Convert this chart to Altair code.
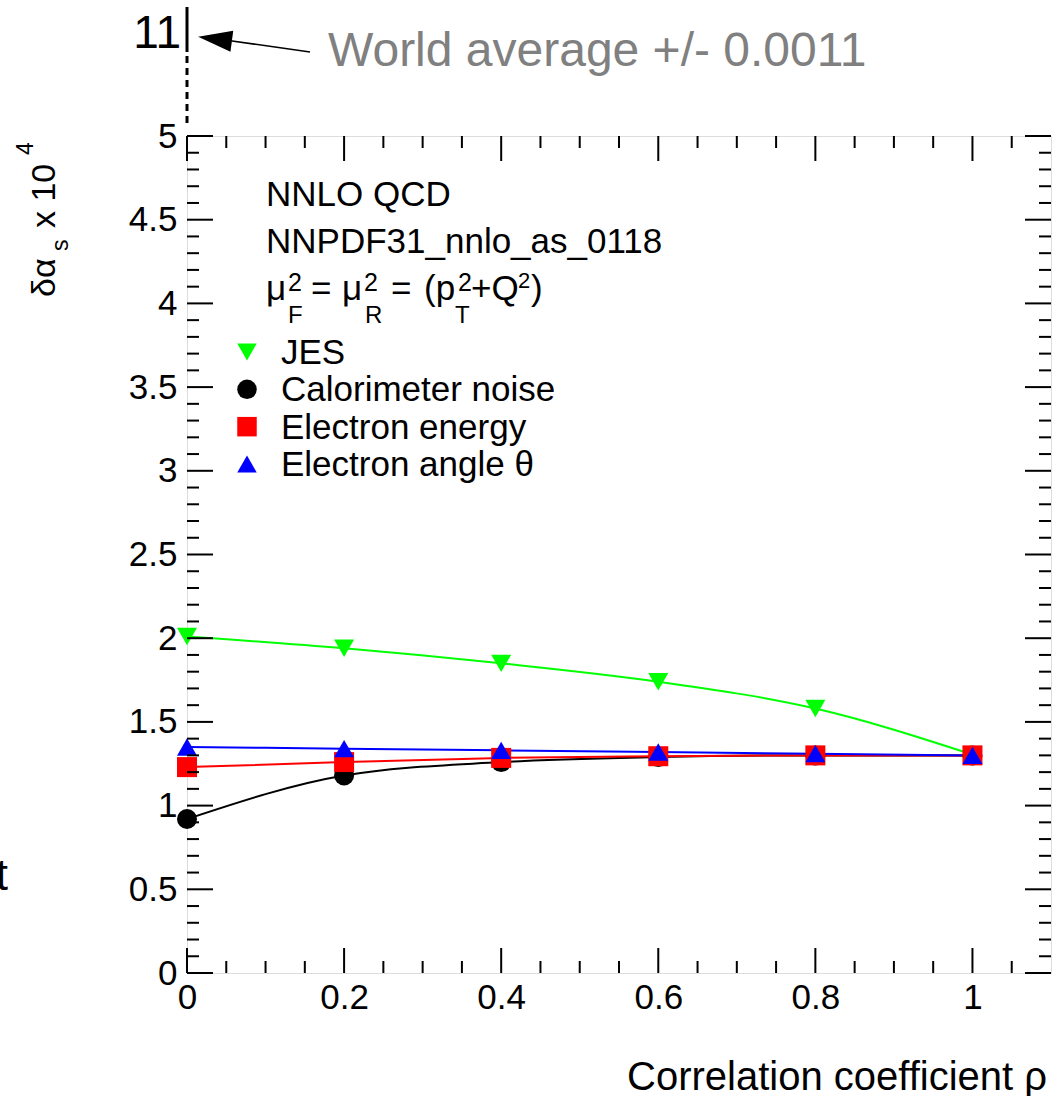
import altair as alt
import pandas as pd

# ---------------- data ----------------
rho = [0.0, 0.2, 0.4, 0.6, 0.8, 1.0]
jes = [2.01, 1.94, 1.85, 1.74, 1.58, 1.305]
cal_noise = [0.92, 1.18, 1.26, 1.29, 1.30, 1.30]
el_energy = [1.23, 1.26, 1.285, 1.295, 1.30, 1.30]
el_angle = [1.35, 1.34, 1.33, 1.32, 1.31, 1.30]

series_names = ["JES", "Calorimeter noise", "Electron energy", "Electron angle θ"]
series_values = [jes, cal_noise, el_energy, el_angle]
series_colors = ["#00ff00", "#000000", "#ff0000", "#0000ff"]
series_shapes = ["triangle-down", "circle", "square", "triangle-up"]

x_labels = [0, 0.2, 0.4, 0.6, 0.8, 1.0]
y_labels = [0, 0.5, 1, 1.5, 2, 2.5, 3, 3.5, 4, 4.5, 5]
x_minor = [0.05, 0.1, 0.15, 0.25, 0.3, 0.35, 0.45, 0.5, 0.55, 0.65, 0.7, 0.75,
           0.85, 0.9, 0.95, 1.05]
y_minor = [v / 10 for v in range(1, 50) if v % 5 != 0]

rows = []
for name, vals in zip(series_names, series_values):
    for r, v in zip(rho, vals):
        rows.append({"series": name, "rho": r, "val": v})
df = pd.DataFrame(rows)
legend_df = pd.DataFrame({"series": series_names})

W, H = 864, 837
FONT = "Liberation Sans"
OX, OY = 187, 136  # plot origin in page pixels (for annotation placement)

xs = alt.Scale(domain=[0, 1.1], nice=False, zero=False)
ys = alt.Scale(domain=[0, 5], nice=False, zero=False)
color_scale = alt.Scale(domain=series_names, range=series_colors)
shape_scale = alt.Scale(domain=series_names, range=series_shapes)

x_axis = alt.Axis(values=x_labels, format="~g", ticks=False, domain=False, grid=False,
                  labelFont=FONT, labelFontSize=35, labelColor="black", labelPadding=7,
                  labelFlush=False, labelOverlap=False, title=None)
y_axis = alt.Axis(values=y_labels, format="~g", ticks=False, domain=False, grid=False,
                  labelFont=FONT, labelFontSize=35, labelColor="black", labelPadding=10,
                  labelFlush=False, labelOverlap=False, title=None)

base = alt.Chart(df)

lines = base.mark_line(interpolate="monotone", strokeWidth=2).encode(
    x=alt.X("rho:Q", scale=xs, axis=x_axis),
    y=alt.Y("val:Q", scale=ys, axis=y_axis),
    stroke=alt.Stroke("series:N", scale=color_scale, legend=None),
    detail="series:N",
)

points = base.mark_point(filled=True, size=400, opacity=1, strokeWidth=0).encode(
    x=alt.X("rho:Q", scale=xs),
    y=alt.Y("val:Q", scale=ys),
    color=alt.Color("series:N", scale=color_scale, legend=None),
    shape=alt.Shape("series:N", scale=shape_scale, legend=None),
)

# ---------------- ticks (inside, on all four sides) ----------------
def tick_df(vals):
    return pd.DataFrame({"v": vals})

def vticks(vals, length):
    d = alt.Chart(tick_df(vals))
    bottom = d.mark_rule(color="black", strokeWidth=2).encode(
        x=alt.X("v:Q", scale=xs), y=alt.value(H), y2=alt.value(H - length))
    top = d.mark_rule(color="black", strokeWidth=2).encode(
        x=alt.X("v:Q", scale=xs), y=alt.value(0), y2=alt.value(length))
    return [bottom, top]

def hticks(vals, length):
    d = alt.Chart(tick_df(vals))
    left = d.mark_rule(color="black", strokeWidth=2).encode(
        y=alt.Y("v:Q", scale=ys), x=alt.value(0), x2=alt.value(length))
    right = d.mark_rule(color="black", strokeWidth=2).encode(
        y=alt.Y("v:Q", scale=ys), x=alt.value(W), x2=alt.value(W - length))
    return [left, right]

ticks = (vticks(x_labels, 25) + vticks(x_minor, 12) +
         hticks(y_labels, 26) + hticks(y_minor, 12))

# ---------------- legend (drawn from the series list) ----------------
leg_y = alt.Y("series:N", scale=alt.Scale(domain=series_names, range=[352 - OY, 464 - OY],
                                          padding=0), axis=None)
leg = alt.Chart(legend_df)
leg_sym = leg.mark_point(filled=True, size=380, opacity=1, strokeWidth=0).encode(
    x=alt.value(247 - OX), y=leg_y,
    color=alt.Color("series:N", scale=color_scale, legend=None),
    shape=alt.Shape("series:N", scale=shape_scale, legend=None),
)
leg_txt = leg.mark_text(align="left", baseline="middle", font=FONT, fontSize=35,
                        color="black", dy=1).encode(
    x=alt.value(281 - OX), y=leg_y, text="series:N")
legend_layer = alt.layer(leg_sym, leg_txt)

# ---------------- annotations ----------------
one = alt.Data(values=[{"a": 1}])

def txt(s, x, y, size=35, color="black", align="left", angle=0, font=FONT):
    kw = dict(text=s, font=font, fontSize=size, color=color, align=align,
              baseline="alphabetic")
    if angle:
        kw["angle"] = angle
    return alt.Chart(one).mark_text(**kw).encode(x=alt.value(x), y=alt.value(y))

def at(s, px, py, **kw):
    return txt(s, px - OX, py - OY, **kw)

annots = [
    at("NNLO QCD", 266, 206),
    at("NNPDF31_nnlo_as_0118", 266, 253),
    # mu_F^2 = mu_R^2 = (p_T^2 + Q^2)
    at("μ", 266, 300),
    at("2", 288, 291, size=25),
    at("F", 288, 323, size=24),
    at("=", 311, 300),
    at("μ", 342, 300),
    at("2", 364, 291, size=25),
    at("R", 365, 323, size=24),
    at("=", 391, 300),
    at("(p", 424, 300),
    at("2", 458, 291, size=25),
    at("T", 455, 323, size=24),
    at("+Q", 471, 300),
    at("2", 518, 288, size=22),
    at(")", 531, 300),
    # y title (rotated)
    at("δα", 55, 297, size=34, angle=270),
    at("s", 68, 251, size=23, angle=270),
    at("x 10", 55, 228, size=34, angle=270),
    at("4", 33, 155, size=23, angle=270),
    # x title
    at("Correlation coefficient ρ", 1047, 1090, size=40, align="right"),
    # stray cut-off label at left edge
    at("t", 8, 890, size=44, align="right"),
    # world average annotation
    at("11", 181, 48, size=46, align="right"),
    at("World average +/- 0.0011", 328, 66, size=48, color="#808080"),
]

wa_solid = alt.Chart(one).mark_rule(color="black", strokeWidth=3).encode(
    x=alt.value(0), y=alt.value(7 - OY), y2=alt.value(52 - OY))
wa_dash = alt.Chart(one).mark_rule(color="black", strokeWidth=3, strokeDash=[7, 5]).encode(
    x=alt.value(0), y=alt.value(56 - OY), y2=alt.value(128 - OY))
arrow_line = alt.Chart(one).mark_rule(color="black", strokeWidth=1.5).encode(
    x=alt.value(310 - OX), y=alt.value(52 - OY), x2=alt.value(225 - OX), y2=alt.value(40 - OY))
arrow_head = alt.Chart(one).mark_point(
    shape="M -1 0 L 1 -0.62 L 1 0.62 Z", filled=True, color="black", size=1156,
    angle=7.6, opacity=1, strokeWidth=0).encode(
    x=alt.value(215 - OX), y=alt.value(39 - OY))

main = alt.layer(lines, points, *ticks, *annots, wa_solid, wa_dash, arrow_line, arrow_head)

chart = alt.layer(main, legend_layer).resolve_scale(y="independent").properties(
    width=W, height=H,
    padding={"left": OX, "top": OY, "right": 1058 - OX - W, "bottom": 1096 - OY - H},
    autosize="none",
).configure_view(stroke="black", strokeWidth=2).configure(background="white")

chart.save("out.html", embed_options={"renderer": "svg", "actions": False})
